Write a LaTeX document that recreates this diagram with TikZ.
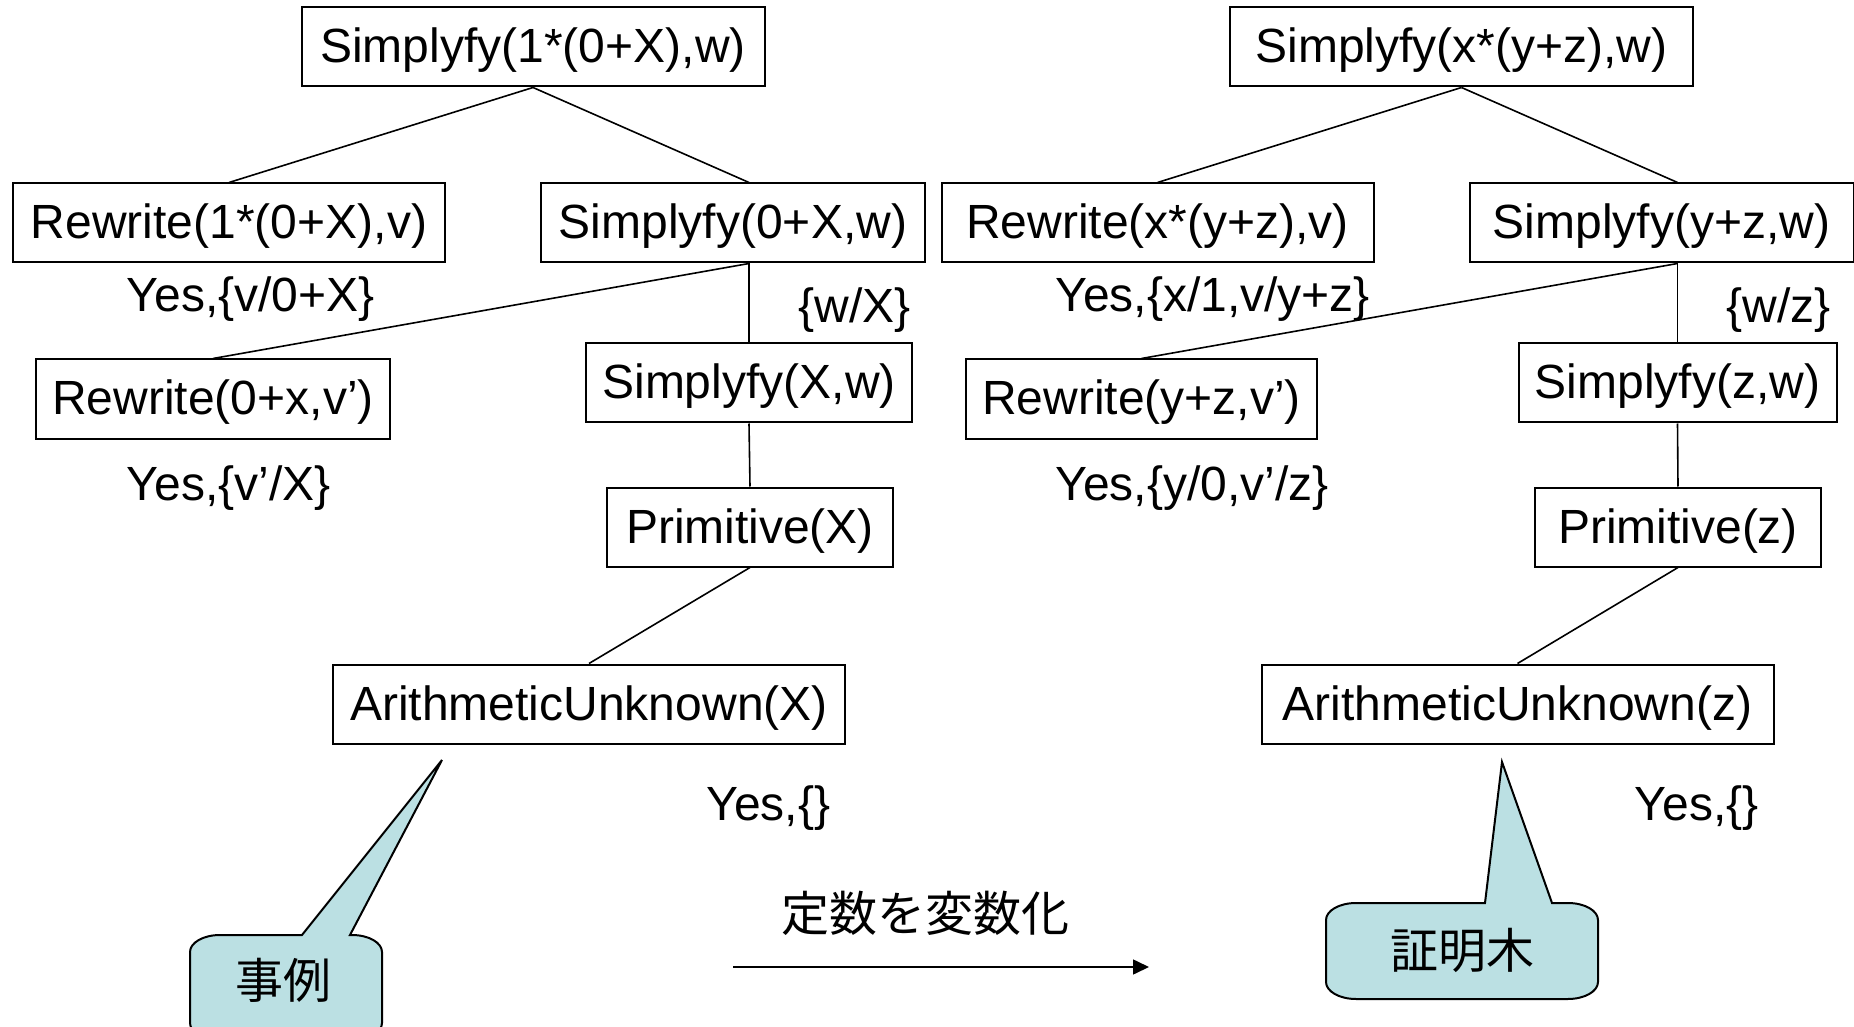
\documentclass[tikz,border=0pt]{standalone}
\usepackage{fontspec}
\setmainfont{Liberation Sans}
\newfontfamily\cjk{Noto Sans CJK JP}
\usepackage{tikz}
\usetikzlibrary{positioning,arrows.meta}

\definecolor{calloutfill}{RGB}{187,224,227}

\begin{document}
\begin{tikzpicture}[x=0.5pt, y=-0.5pt, every node/.style={font=\fontsize{24}{28}\selectfont}, box/.style={draw, line width=1pt, inner xsep=8pt, text height=21pt, text depth=5pt, minimum height=39.5pt, align=center}, lbl/.style={anchor=west, inner sep=0pt}, edge/.style={line width=0.8pt}, callout/.style={draw, line width=1pt, fill=calloutfill}, jp/.style={font=\cjk\fontsize{24}{28}\selectfont}]
\useasboundingbox (0,0) rectangle (1854,1027);
% left tree
\node[box, minimum width=231.5pt] (lroot) at (533,47) {Simplyfy(1*(0+X),w)};
\node[box, minimum width=216pt] (lrw1) at (229,223) {Rewrite(1*(0+X),v)};
\node[box, minimum width=192pt] (ls1) at (733,223) {Simplyfy(0+X,w)};
\node[box, minimum width=175.5pt] (lrw2) at (213,399) {Rewrite(0+x,v')};
\node[box, minimum width=159pt] (ls2) at (749,383) {Simplyfy(X,w)};
\node[box, minimum width=143pt] (lprim) at (750,527) {Primitive(X)};
\node[box, minimum width=256pt] (lar) at (589,704) {ArithmeticUnknown(X)};
\node[lbl] (lyes1) at (126.5,299) {Yes,\{v/0+X\}};
\node[lbl] (lyes2) at (126.5,488) {Yes,\{v'/X\}};
\node[lbl] (lsub) at (798,310) {\{w/X\}};
\node[lbl] (lyes3) at (706,808) {Yes,\{\}};
\draw[edge] (lroot.south) -- (lrw1.north);
\draw[edge] (lroot.south) -- (ls2.north |- ls1.north);
\draw[edge] (ls2.north |- ls1.south) -- (lrw2.north);
\draw[edge] (ls2.north |- ls1.south) -- (ls2.north);
\draw[edge] (ls2.south) -- (lprim.north);
\draw[edge] (lprim.south) -- (lar.north);
% right tree
\node[box, minimum width=231.5pt] (rroot) at (1461.5,47) {Simplyfy(x*(y+z),w)};
\node[box, minimum width=216pt] (rrw1) at (1157.5,223) {Rewrite(x*(y+z),v)};
\node[box, minimum width=192pt] (rs1) at (1661.5,223) {Simplyfy(y+z,w)};
\node[box, minimum width=175.5pt] (rrw2) at (1141.5,399) {Rewrite(y+z,v')};
\node[box, minimum width=159pt] (rs2) at (1677.5,383) {Simplyfy(z,w)};
\node[box, minimum width=143pt] (rprim) at (1678,527) {Primitive(z)};
\node[box, minimum width=256pt] (rar) at (1517.5,704) {ArithmeticUnknown(z)};
\node[lbl] (ryes1) at (1055,299) {Yes,\{x/1,v/y+z\}};
\node[lbl] (ryes2) at (1055,488) {Yes,\{y/0,v'/z\}};
\node[lbl] (rsub) at (1726.5,310) {\{w/z\}};
\node[lbl] (ryes3) at (1634.5,808) {Yes,\{\}};
\draw[edge] (rroot.south) -- (rrw1.north);
\draw[edge] (rroot.south) -- (rs2.north |- rs1.north);
\draw[edge] (rs2.north |- rs1.south) -- (rrw2.north);
\draw[edge] (rs2.north |- rs1.south) -- (rs2.north);
\draw[edge] (rs2.south) -- (rprim.north);
\draw[edge] (rprim.south) -- (rar.north);
% callouts
\draw[callout] (302,935) -- (442,760) -- (350,935) -- (352,935) .. controls (368.6,935) and (382,942.6) .. (382,952) -- (382,1023) .. controls (382,1032.4) and (368.6,1040) .. (352,1040) -- (220,1040) .. controls (203.4,1040) and (190,1032.4) .. (190,1023) -- (190,952) .. controls (190,942.6) and (203.4,935) .. (220,935) -- cycle;
\node[jp] (case) at (283,980) {事例};
\draw[callout] (1485,903) -- (1502,762) -- (1552,903) -- (1568,903) .. controls (1584.6,903) and (1598,910.6) .. (1598,920) -- (1598,982) .. controls (1598,991.4) and (1584.6,999) .. (1568,999) -- (1356,999) .. controls (1339.4,999) and (1326,991.4) .. (1326,982) -- (1326,920) .. controls (1326,910.6) and (1339.4,903) .. (1356,903) -- cycle;
\node[jp] (prooftree) at (1462,950) {証明木};
% conversion arrow
\coordinate (arrs) at (733,967);
\coordinate (arre) at (1149,967);
\draw[-{Triangle[length=8pt,width=7.5pt]}, line width=0.8pt] (arrs) -- (arre);
\node[jp] (conv) at (925,913) {定数を変数化};
\end{tikzpicture}
\end{document}
